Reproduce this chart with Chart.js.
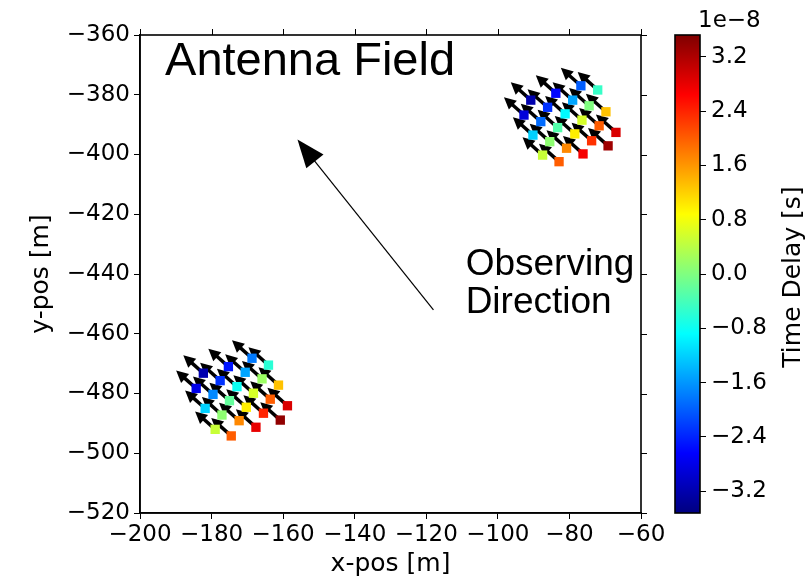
<!DOCTYPE html>
<html>
<head>
<meta charset="utf-8">
<title>Antenna Field</title>
<script src="https://cdn.jsdelivr.net/npm/chart.js@4.4.1/dist/chart.umd.min.js"></script>
<style>
  html, body { margin: 0; padding: 0; background: #fff; }
  #wrap { position: relative; width: 808px; height: 580px; }
  #field { position: absolute; left: 0; top: 0; }
  #cbar { position: absolute; left: 641px; top: 0; }
</style>
</head>
<body>
<div id="wrap">
  <canvas id="field" width="808" height="580"></canvas>
  <canvas id="cbar" width="167" height="580"></canvas>
</div>
<script>
// antenna positions [m] and time delays [1e-8 s], lower-left field
const fieldAX = [-168.7, -164.1, -175.3, -170.6, -165.9, -161.3, -182.3, -177.6, -172.9, -168.3, -163.6, -158.8,
                 -184.3, -179.6, -175.0, -170.3, -165.5, -160.8, -181.8, -177.1, -172.3, -167.6, -179.0, -174.5];
const fieldAY = [-468.2, -470.5, -471.0, -472.9, -475.1, -477.2, -473.2, -475.7, -477.7, -479.9, -481.9, -484.1,
                 -478.3, -480.3, -482.4, -484.6, -486.6, -488.9, -485.0, -487.2, -489.1, -491.3, -492.0, -494.2];
const fieldADelay = [-1.8, -0.6, -2.5, -1.5, 0.2, 1.3, -3.2, -2.3, -0.8, 0.6, 2.0, 2.9,
                     -2.8, -1.7, -0.2, 1.0, 2.4, 3.4, -1.2, 0.1, 1.7, 2.8, 0.5, 2.0];

// upper-right field
const fieldBX = [-76.8, -72.1, -83.8, -79.1, -74.5, -69.8, -90.8, -86.1, -81.2, -76.5, -71.7, -67.0,
                 -92.7, -88.0, -83.3, -78.5, -73.8, -69.2, -90.2, -85.5, -80.8, -76.2, -87.5, -82.9];
const fieldBY = [-377.0, -378.4, -379.5, -381.8, -383.7, -385.7, -381.8, -384.2, -386.4, -388.5, -390.4, -392.6,
                 -386.8, -389.0, -391.0, -393.1, -395.4, -397.1, -393.5, -395.7, -397.9, -399.8, -400.2, -402.4];
const fieldBDelay = [-2.0, -0.5, -2.6, -1.5, 0.0, 1.3, -3.2, -2.3, -0.9, 0.6, 2.0, 2.9,
                     -2.9, -1.9, -0.3, 1.0, 2.3, 3.3, -1.2, 0.1, 1.7, 2.7, 0.5, 2.0];

// pointing of each antenna arrow [m]
const arrowU = -5.6;
const arrowV = 6.0;

const xTicks = [-200, -180, -160, -140, -120, -100, -80, -60];
const yTicks = [-360, -380, -400, -420, -440, -460, -480, -500, -520];
const cbTicks = [-3.2, -2.4, -1.6, -0.8, 0.0, 0.8, 1.6, 2.4, 3.2];
const cbMin = -3.52;
const cbMax = 3.52;

// observing direction annotation [m]
const obsTail = [-118, -452];
const obsTip = [-156, -395];

const TICK_FONT = { family: 'DejaVu Sans', size: 23 };
const TITLE_FONT = { family: 'DejaVu Sans', size: 25 };

function clamp(v) { return Math.max(0, Math.min(1, v)); }

function jet(value) {
  const t = clamp((value - cbMin) / (cbMax - cbMin));
  const r = clamp(Math.min(4 * t - 1.5, -4 * t + 4.5));
  const g = clamp(Math.min(4 * t - 0.5, -4 * t + 3.5));
  const b = clamp(Math.min(4 * t + 0.5, -4 * t + 2.5));
  return 'rgb(' + Math.round(r * 255) + ',' + Math.round(g * 255) + ',' + Math.round(b * 255) + ')';
}

function minus(v, digits) {
  const s = digits ? Math.abs(v).toFixed(digits) : String(Math.abs(v));
  return (v < 0 ? '\u2212' : '') + s;
}

function toPoints(xs, ys) {
  return xs.map((x, i) => ({ x: x, y: ys[i] }));
}

function fillArrow(ctx, x0, y0, x1, y1, headLen, headHalf, shaftWidth) {
  const dx = x1 - x0, dy = y1 - y0;
  const len = Math.hypot(dx, dy);
  const ux = dx / len, uy = dy / len;
  const bx = x1 - ux * headLen, by = y1 - uy * headLen;
  ctx.beginPath();
  ctx.moveTo(x0, y0);
  ctx.lineTo(bx + ux, by + uy);
  ctx.lineWidth = shaftWidth;
  ctx.stroke();
  ctx.beginPath();
  ctx.moveTo(x1, y1);
  ctx.lineTo(bx - uy * headHalf, by + ux * headHalf);
  ctx.lineTo(bx + uy * headHalf, by - ux * headHalf);
  ctx.closePath();
  ctx.fill();
}

// black arrows behind each antenna square
const antennaArrows = {
  id: 'antennaArrows',
  beforeDatasetsDraw(chart) {
    const ctx = chart.ctx;
    const xs = chart.scales.x, ys = chart.scales.y;
    ctx.save();
    ctx.fillStyle = '#000';
    ctx.strokeStyle = '#000';
    chart.data.datasets.forEach(ds => {
      ds.data.forEach(p => {
        const x0 = xs.getPixelForValue(p.x), y0 = ys.getPixelForValue(p.y);
        const x1 = xs.getPixelForValue(p.x + arrowU), y1 = ys.getPixelForValue(p.y + arrowV);
        fillArrow(ctx, x0, y0, x1, y1, 12, 6, 3.5);
      });
    });
    ctx.restore();
  }
};

// frame, right/top ticks and the text annotations
const frameAndNotes = {
  id: 'frameAndNotes',
  afterDraw(chart) {
    const ctx = chart.ctx;
    const a = chart.chartArea;
    const xs = chart.scales.x, ys = chart.scales.y;
    ctx.save();
    ctx.strokeStyle = '#000';
    ctx.fillStyle = '#000';
    ctx.lineWidth = 1;
    ctx.beginPath();
    yTicks.forEach(v => {
      const y = Math.round(ys.getPixelForValue(v)) + 0.5;
      ctx.moveTo(a.right, y);
      ctx.lineTo(a.right + 6, y);
    });
    xTicks.forEach(v => {
      const x = Math.round(xs.getPixelForValue(v)) + 0.5;
      ctx.moveTo(x, a.top);
      ctx.lineTo(x, a.top - 6);
    });
    ctx.stroke();
    ctx.lineWidth = 1.6;
    ctx.strokeRect(a.left, a.top, a.right - a.left, a.bottom - a.top);

    ctx.textBaseline = 'middle';
    ctx.textAlign = 'left';
    ctx.font = '47px "Liberation Sans"';
    ctx.fillText('Antenna Field', xs.getPixelForValue(-193), ys.getPixelForValue(-369));
    ctx.font = '37px "Liberation Sans"';
    ctx.fillText('Observing', xs.getPixelForValue(-109), ys.getPixelForValue(-437));
    ctx.fillText('Direction', xs.getPixelForValue(-109), ys.getPixelForValue(-449.7));

    fillArrow(ctx,
      xs.getPixelForValue(obsTail[0]), ys.getPixelForValue(obsTail[1]),
      xs.getPixelForValue(obsTip[0]), ys.getPixelForValue(obsTip[1]),
      28, 11, 1.2);
    ctx.restore();
  }
};

new Chart(document.getElementById('field'), {
  type: 'scatter',
  data: {
    datasets: [
      {
        label: 'field A',
        data: toPoints(fieldAX, fieldAY),
        backgroundColor: fieldADelay.map(jet)
      },
      {
        label: 'field B',
        data: toPoints(fieldBX, fieldBY),
        backgroundColor: fieldBDelay.map(jet)
      }
    ]
  },
  options: {
    responsive: false,
    animation: false,
    events: [],
    layout: { padding: { left: 0, top: 35, right: 167, bottom: 0 } },
    elements: {
      point: { pointStyle: 'rect', radius: 6.6, borderWidth: 0 }
    },
    scales: {
      x: {
        type: 'linear',
        min: -200,
        max: -60,
        afterBuildTicks: s => { s.ticks = xTicks.map(v => ({ value: v })); },
        afterFit: s => { s.height = 67; },
        ticks: { font: TICK_FONT, color: '#000', padding: 2, maxRotation: 0, autoSkip: false,
                 callback: v => minus(v) },
        grid: { drawOnChartArea: false, drawTicks: true, tickLength: 6, tickColor: '#000' },
        border: { display: true, color: '#000', width: 1.6 },
        title: { display: true, text: 'x-pos [m]', font: TITLE_FONT, color: '#000', padding: { top: 2, bottom: 1 } }
      },
      y: {
        type: 'linear',
        min: -520,
        max: -360,
        afterBuildTicks: s => { s.ticks = yTicks.map(v => ({ value: v })); },
        afterFit: s => { s.width = 140; },
        ticks: { font: TICK_FONT, color: '#000', padding: 4, autoSkip: false,
                 callback: v => minus(v) },
        grid: { drawOnChartArea: false, drawTicks: true, tickLength: 6, tickColor: '#000' },
        border: { display: true, color: '#000', width: 1.6 },
        title: { display: true, text: 'y-pos [m]', font: TITLE_FONT, color: '#000', padding: { top: 26, bottom: 0 } }
      }
    },
    plugins: { legend: { display: false }, tooltip: { enabled: false } }
  },
  plugins: [antennaArrows, frameAndNotes]
});

// colour bar
const colorBar = {
  id: 'colorBar',
  beforeDraw(chart) {
    const ctx = chart.ctx;
    const a = chart.chartArea;
    const ys = chart.scales.y;
    const grad = ctx.createLinearGradient(0, a.bottom, 0, a.top);
    for (let i = 0; i <= 64; i++) {
      grad.addColorStop(i / 64, jet(cbMin + (cbMax - cbMin) * i / 64));
    }
    ctx.save();
    ctx.fillStyle = grad;
    ctx.fillRect(a.left, ys.getPixelForValue(cbMax), a.right - a.left, ys.getPixelForValue(cbMin) - ys.getPixelForValue(cbMax));
    ctx.restore();
  },
  afterDraw(chart) {
    const ctx = chart.ctx;
    const a = chart.chartArea;
    ctx.save();
    ctx.strokeStyle = '#000';
    ctx.lineWidth = 1.6;
    ctx.strokeRect(a.left, a.top, a.right - a.left, a.bottom - a.top);
    ctx.fillStyle = '#000';
    ctx.font = '23px "DejaVu Sans"';
    ctx.textAlign = 'left';
    ctx.textBaseline = 'alphabetic';
    ctx.fillText('1e\u22128', a.right - 2, a.top - 8);
    ctx.translate(152, (a.top + a.bottom) / 2 + 3);
    ctx.rotate(-Math.PI / 2);
    ctx.textAlign = 'center';
    ctx.textBaseline = 'middle';
    ctx.font = '25px "DejaVu Sans"';
    ctx.fillText('Time Delay [s]', 0, 0);
    ctx.restore();
  }
};

new Chart(document.getElementById('cbar'), {
  type: 'scatter',
  data: { datasets: [] },
  options: {
    responsive: false,
    animation: false,
    events: [],
    layout: { padding: { left: 34, top: 35, right: 0, bottom: 67 } },
    scales: {
      x: { display: false, min: 0, max: 1 },
      y: {
        position: 'right',
        min: cbMin,
        max: cbMax,
        afterBuildTicks: s => { s.ticks = cbTicks.map(v => ({ value: v })); },
        afterFit: s => { s.width = 108; },
        ticks: { font: TICK_FONT, color: '#000', padding: 5, autoSkip: false,
                 callback: v => minus(v, 1) },
        grid: { drawOnChartArea: false, drawTicks: true, tickLength: 6, tickColor: '#000' },
        border: { display: false }
      }
    },
    plugins: { legend: { display: false }, tooltip: { enabled: false } }
  },
  plugins: [colorBar]
});
</script>
</body>
</html>
